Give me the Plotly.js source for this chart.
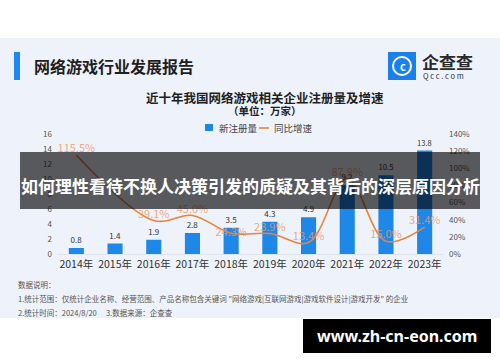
<!DOCTYPE html>
<html>
<head>
<meta charset="utf-8">
<script src="https://cdn.plot.ly/plotly-3.0.1.min.js"></script>
<style>html,body{margin:0;padding:0;background:#fff;}#chart{width:500px;height:362px;}</style>
</head>
<body>
<div id="chart"></div>
<script>
// ---- data ----
const years = ["2014年","2015年","2016年","2017年","2018年","2019年","2020年","2021年","2022年","2023年"];
const registrations = [0.8, 1.4, 1.9, 2.8, 3.5, 4.3, 4.9, 9.2, 10.5, 13.8];
const growthYears = ["2014年","2016年","2017年","2018年","2019年","2020年","2021年","2022年","2023年"];
const growthRates = [115.5, 39.1, 45.0, 24.3, 23.9, 13.4, 87.9, 15.0, 31.4];
const growthLabelPos = ["top center","top center","top center","middle center","top center","top center","top center","top center","top center"];
const leftTicks = [0, 2, 4, 6, 8, 10, 12, 14, 16];
const rightTicks = [0, 20, 40, 60, 80, 100, 120, 140];

// ---- layout helpers (pixel -> paper) ----
const L = 57, R = 444, T = 134, B = 254;
const X = p => (p - L) / (R - L);
const Y = p => (B - p) / (B - T);
const FONT = '"Noto Sans CJK SC", "Noto Sans", sans-serif';
const BAR = '#1e88e8', LINE = '#e8843c';

const traces = [
  {
    type: 'bar', x: years, y: registrations, name: '新注册量',
    marker: {color: BAR},
    text: registrations.map(v => v.toFixed(1)), textposition: 'outside',
    textfont: {size: 8, color: '#333', family: FONT}, cliponaxis: false,
    hoverinfo: 'skip'
  },
  {
    type: 'scatter', mode: 'lines+text', x: growthYears, y: growthRates, yaxis: 'y2', name: '同比增速',
    line: {color: LINE, width: 1.6, shape: 'spline', smoothing: 1},
    text: growthRates.map(v => v.toFixed(1) + '%'), textposition: growthLabelPos,
    textfont: {size: 11, color: 'rgba(238,150,95,0.8)', family: FONT}, cliponaxis: false,
    hoverinfo: 'skip'
  }
];

function rect(x0, y0, x1, y1, fill, layer) {
  return {type: 'rect', xref: 'paper', yref: 'paper', x0: X(x0), x1: X(x1), y0: Y(y1), y1: Y(y0),
          fillcolor: fill, line: {width: 0}, layer: layer || 'below'};
}
function txt(x, y, text, size, color, xanchor, extra) {
  return Object.assign({xref: 'paper', yref: 'paper', x: X(x), y: Y(y), text: text, showarrow: false,
          xanchor: xanchor || 'left', yanchor: 'middle', font: {size: size, color: color, family: FONT}}, extra || {});
}

const shapes = [
  rect(0, 38, 500, 318, '#eef2fa', 'below'),
  rect(14, 52, 20, 80, '#1f86f5', 'below'),
  rect(388, 52, 416, 80, '#1a80f0', 'below'),
  {type: 'circle', xref: 'paper', yref: 'paper', x0: X(393), x1: X(411), y0: Y(75), y1: Y(57),
   line: {color: '#fff', width: 2}, fillcolor: 'rgba(0,0,0,0)', layer: 'below'},
  rect(205, 124, 213, 131, BAR, 'below'),
  {type: 'line', xref: 'paper', yref: 'paper', x0: X(259), x1: X(269), y0: Y(128), y1: Y(128),
   line: {color: LINE, width: 1.6}, layer: 'below'},
  rect(20, 152, 480, 209, 'rgba(0,0,0,0.63)', 'above'),
  rect(303, 319, 491, 353, '#000', 'above')
];

const annotations = [
  txt(32, 66, '<b>网络游戏行业发展报告</b>', 16, '#1f1f1f'),
  txt(403, 66, '<b>c</b>', 11, '#fff', 'center'),
  txt(420, 62, '<b>企查查</b>', 17, '#2a2a2a'),
  txt(421, 75, 'Q c c . c o m', 7.5, '#333'),
  txt(265, 97, '<b>近十年我国网络游戏相关企业注册量及增速</b>', 12.5, '#1f1f1f', 'center'),
  txt(265, 110, '<b>（单位：万家）</b>', 10.5, '#1f1f1f', 'center'),
  txt(217, 128, '新注册量', 9.5, '#444'),
  txt(272, 128, '同比增速', 9.5, '#444'),
  txt(250, 185, '<b>如何理性看待不换人决策引发的质疑及其背后的深层原因分析</b>', 17, '#fff', 'center'),
  txt(16, 284, '数据说明：', 7.5, '#555'),
  txt(16, 298, '1.统计范围：仅统计企业名称、经营范围、产品名称包含关键词 "网络游戏|互联网游戏|游戏软件设计|游戏开发" 的企业', 7.5, '#555'),
  txt(16, 312, '2.统计时间：2024/8/20　 3.数据来源：企查查', 7.5, '#555'),
  txt(397, 336, '<b>www.zh-cn-eon.com</b>', 16, '#fff', 'center', {font: {size: 16, color: '#fff', family: '"Noto Sans", "DejaVu Sans", sans-serif'}})
];

const layout = {
  width: 500, height: 362,
  margin: {l: L, r: 500 - R, t: T, b: 362 - B, pad: 0},
  paper_bgcolor: '#ffffff', plot_bgcolor: 'rgba(0,0,0,0)',
  showlegend: false, bargap: 0.61,
  font: {family: FONT},
  xaxis: {type: 'category', range: [-0.5, 9.5], showgrid: false, zeroline: false,
          showline: true, linecolor: '#dfe4ee', linewidth: 1, ticks: '',
          tickfont: {size: 10.5, color: '#333', family: FONT}, fixedrange: true},
  yaxis: {range: [0, 16], tickvals: leftTicks, showgrid: false, zeroline: false,
          tickfont: {size: 8, color: '#555', family: FONT}, ticklabelstandoff: 4, fixedrange: true},
  yaxis2: {range: [0, 140], tickvals: rightTicks, ticktext: rightTicks.map(v => v + '%'),
           overlaying: 'y', side: 'right', showgrid: false, zeroline: false,
           tickfont: {size: 8, color: '#555', family: FONT}, ticklabelstandoff: 4, fixedrange: true},
  shapes: shapes, annotations: annotations
};

Plotly.newPlot('chart', traces, layout, {displayModeBar: false, staticPlot: true});
</script>
</body>
</html>
